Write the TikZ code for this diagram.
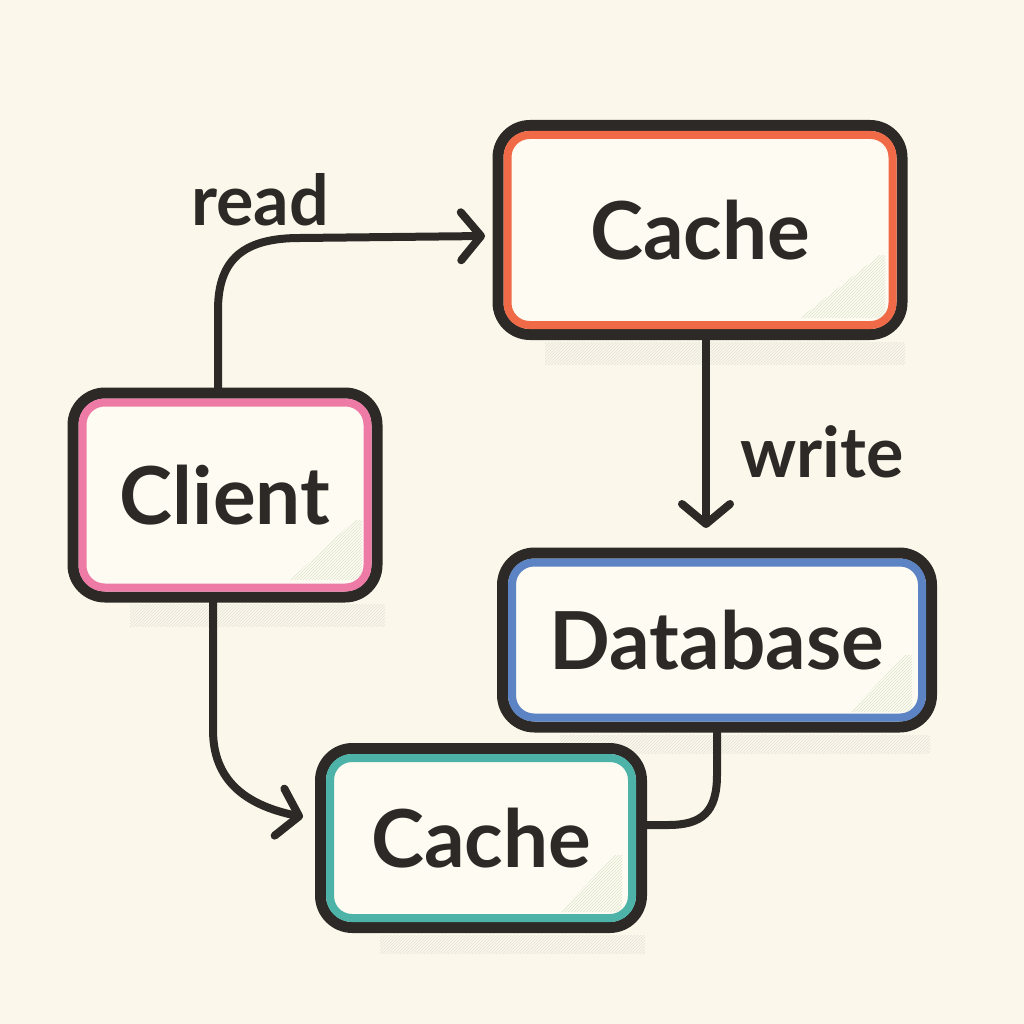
\documentclass[tikz,border=0pt]{standalone}
\usepackage{fontspec}
\setmainfont{Lato}
\usetikzlibrary{arrows.meta,patterns}
\definecolor{bg}{HTML}{FBF8EB}
\definecolor{boxfill}{HTML}{FDFBF2}
\definecolor{ink}{HTML}{2C2926}
\definecolor{orangec}{HTML}{F06A48}
\definecolor{pinkc}{HTML}{EE7BA6}
\definecolor{bluec}{HTML}{5C83C4}
\definecolor{tealc}{HTML}{4DB3A8}
\definecolor{greenh}{HTML}{A8BC88}
\tikzset{
  box/.style={draw=ink, line width=11pt, fill=boxfill, rounded corners=32pt,
    outer sep=0pt, inner sep=0pt, font=\fontsize{80}{86}\selectfont\bfseries, text=ink},
  band/.style={line width=8pt, rounded corners=22pt},
  conn/.style={draw=ink, line width=8pt, line cap=round, line join=round},
  tip/.style={-{Straight Barb[length=20pt,width=48pt,line width=8pt,round]}},
  lbl/.style={text=ink, font=\fontsize{70}{74}\selectfont\bfseries},
  hatch/.style={pattern=north east lines, pattern color=gray!60, opacity=0.3},
  ghatch/.style={pattern=north east lines, pattern color=greenh, opacity=0.35}
}
\begin{document}
\begin{tikzpicture}[x=1pt,y=-1pt]
\useasboundingbox[fill=bg] (0,0) rectangle (1024,1024);
% shadows
\fill[hatch] (130,604) rectangle (385,626);
\fill[hatch] (545,342) rectangle (905,364);
\fill[hatch] (560,735) rectangle (930,753);
\fill[hatch] (380,935) rectangle (645,953);
% boxes
\node[box, minimum width=404pt, minimum height=209pt] (ct) at (700,230) {Cache};
\node[box, minimum width=304pt, minimum height=204pt] (cl) at (225,495) {Client};
\node[box, minimum width=429pt, minimum height=174pt] (db) at (717,640) {Database};
\node[box, minimum width=321pt, minimum height=179pt] (cb) at (481,838) {Cache};
% inner green hatch in lower right
\fill[ghatch] (880,255) -- (885,255) -- (885,318) -- (800,318) -- cycle;
\fill[ghatch] (355,520) -- (362,520) -- (362,580) -- (290,580) -- cycle;
\fill[ghatch] (905,655) -- (912,655) -- (912,712) -- (850,712) -- cycle;
\fill[ghatch] (615,855) -- (622,855) -- (622,912) -- (560,912) -- cycle;
\draw[band, orangec] ([xshift=9.5pt,yshift=-9.5pt]ct.north west) rectangle ([xshift=-9.5pt,yshift=9.5pt]ct.south east);
\draw[band, pinkc] ([xshift=9.5pt,yshift=-9.5pt]cl.north west) rectangle ([xshift=-9.5pt,yshift=9.5pt]cl.south east);
\draw[band, bluec] ([xshift=9.5pt,yshift=-9.5pt]db.north west) rectangle ([xshift=-9.5pt,yshift=9.5pt]db.south east);
\draw[band, tealc] ([xshift=9.5pt,yshift=-9.5pt]cb.north west) rectangle ([xshift=-9.5pt,yshift=9.5pt]cb.south east);
% connectors
\coordinate (readend) at (485,236);
\coordinate (writeend) at (706,528);
\coordinate (cbend) at (303,817);
\draw[conn, tip] ([xshift=-7pt]cl.north) -- (218,310) .. controls (218,258) and (245,238) .. (300,238) -- (readend);
\draw[conn, tip] ([xshift=6pt]ct.south) -- (writeend);
\draw[conn, tip] ([xshift=-12pt]cl.south) -- (213,730) .. controls (213,780) and (245,805) .. (cbend);
\draw[conn] (db.south) -- (717,775) .. controls (717,812) and (702,825) .. (668,825) -- ([yshift=13pt]cb.east);
% labels
\node[lbl] (readlbl) at (260,200) {read};
\node[lbl] (writelbl) at (822,452) {write};
\end{tikzpicture}
\end{document}
